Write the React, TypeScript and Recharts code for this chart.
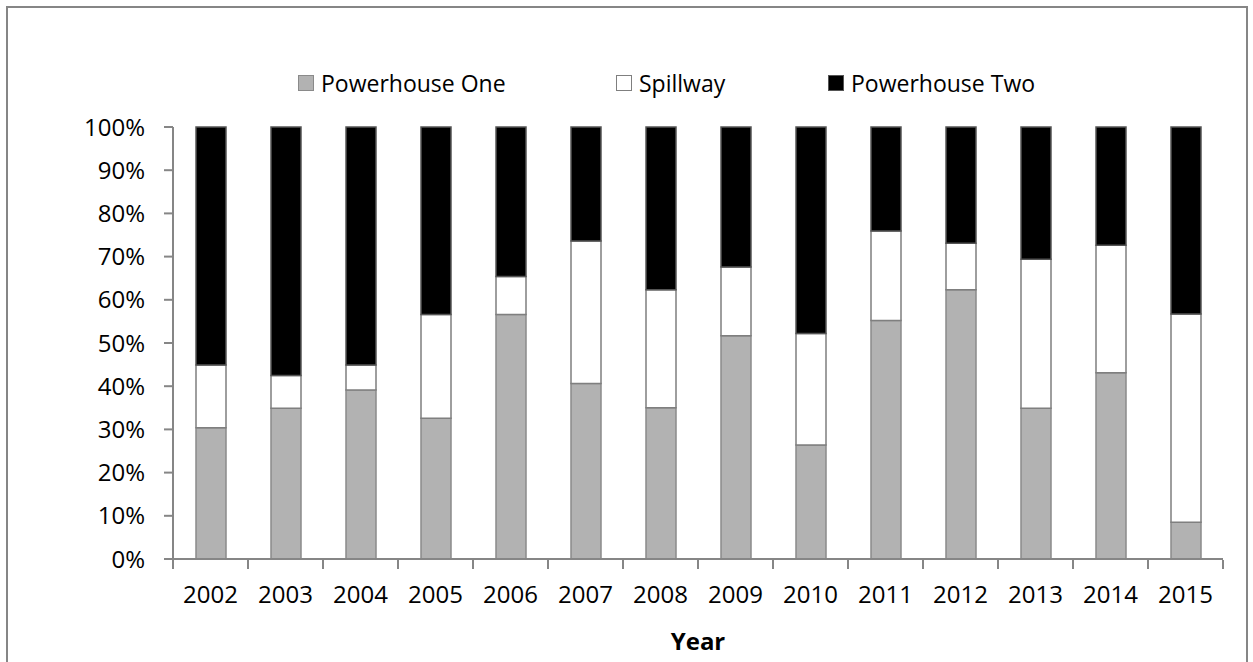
import React from "react";
import { BarChart, Bar, XAxis, YAxis } from "recharts";

const years = ["2002", "2003", "2004", "2005", "2006", "2007", "2008", "2009", "2010", "2011", "2012", "2013", "2014", "2015"];
const powerhouseOne = [30.4, 34.9, 39.1, 32.6, 56.6, 40.6, 35.0, 51.7, 26.4, 55.2, 62.3, 34.9, 43.1, 8.5];
const spillway = [14.5, 7.6, 5.8, 24.0, 8.8, 33.0, 27.3, 15.9, 25.8, 20.7, 10.8, 34.5, 29.5, 48.2];
const powerhouseTwo = [55.1, 57.5, 55.1, 43.4, 34.6, 26.4, 37.7, 32.4, 47.8, 24.1, 26.9, 30.6, 27.4, 43.3];
const yTicks = [0, 10, 20, 30, 40, 50, 60, 70, 80, 90, 100];
const edgeTicks = [0, 1, 2, 3, 4, 5, 6, 7, 8, 9, 10, 11, 12, 13, 14];

const data = years.map((year, i) => ({
  year,
  idx: i + 0.5,
  one: powerhouseOne[i],
  spill: spillway[i],
  two: powerhouseTwo[i],
}));

const FONT = "'Open Sans', sans-serif";
const AXIS = "#868686";

const legendItems = [
  { label: "Powerhouse One", fill: "#b2b2b2", stroke: "#8a8a8a", left: 298 },
  { label: "Spillway", fill: "#ffffff", stroke: "#7f7f7f", left: 616 },
  { label: "Powerhouse Two", fill: "#000000", stroke: "#555555", left: 828 },
];

const EmptyTick = () => <g />;

export default function App() {
  return (
    <div style={{ position: "absolute", left: 0, top: 0, width: 1253, height: 662, fontFamily: FONT, background: "#fff" }}>
      <div
        style={{
          position: "absolute",
          left: 6,
          top: 6,
          width: 1238,
          height: 700,
          borderLeft: `2px solid ${AXIS}`,
          borderTop: `2px solid ${AXIS}`,
          borderRight: `2px solid ${AXIS}`,
        }}
      />
      {legendItems.map((it) => (
        <div key={it.label} style={{ position: "absolute", left: it.left, top: 67, height: 32, display: "flex", alignItems: "center" }}>
          <span
            style={{
              display: "inline-block",
              width: 14,
              height: 14,
              background: it.fill,
              border: `1.5px solid ${it.stroke}`,
              marginRight: 7,
            }}
          />
          <span style={{ fontSize: 23, color: "#000" }}>{it.label}</span>
        </div>
      ))}
      <BarChart
        width={1253}
        height={662}
        data={data}
        margin={{ top: 127, right: 30, left: 0, bottom: 4 }}
        style={{ position: "absolute", left: 0, top: 0 }}
      >
        <XAxis
          dataKey="year"
          height={1}
          tickLine={false}
          tickSize={0}
          tickMargin={27}
          axisLine={{ stroke: AXIS, strokeWidth: 2 }}
          tick={{ fill: "#000", fontSize: 24, fontFamily: FONT }}
        />
        <XAxis
          xAxisId="edges"
          type="number"
          dataKey="idx"
          domain={[0, 14]}
          ticks={edgeTicks}
          interval={0}
          height={98}
          tick={EmptyTick}
          tickSize={9}
          tickLine={{ stroke: AXIS, strokeWidth: 2 }}
          axisLine={false}
          allowDataOverflow
          label={{ value: "Year", position: "insideBottom", offset: 8, fill: "#000", fontSize: 24, fontWeight: "bold", fontFamily: FONT }}
        />
        <YAxis
          width={173}
          domain={[0, 100]}
          ticks={yTicks}
          tickFormatter={(v: number) => `${v}%`}
          tickSize={9}
          tickMargin={19}
          tickLine={{ stroke: AXIS, strokeWidth: 2 }}
          axisLine={{ stroke: AXIS, strokeWidth: 2 }}
          tick={{ fill: "#000", fontSize: 24, fontFamily: FONT }}
          interval={0}
        />
        <Bar dataKey="one" stackId="a" fill="#b2b2b2" stroke="#8a8a8a" strokeWidth={1.5} barSize={30} isAnimationActive={false} />
        <Bar dataKey="spill" stackId="a" fill="#ffffff" stroke="#7f7f7f" strokeWidth={1.5} barSize={30} isAnimationActive={false} />
        <Bar dataKey="two" stackId="a" fill="#000000" stroke="#555555" strokeWidth={1.5} barSize={30} isAnimationActive={false} />
      </BarChart>
    </div>
  );
}
